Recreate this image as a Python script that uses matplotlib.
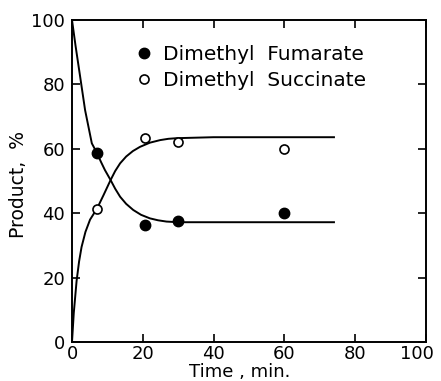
import matplotlib.pyplot as plt
from matplotlib.transforms import ScaledTranslation

# measured points
time_pts = [7, 20.5, 30, 60]
fumarate = [58.8, 36.4, 37.7, 40]
succinate = [41.4, 63.4, 62.2, 60]

# hand drawn curves
fum_t = [0, 1, 2.3, 3.7, 5.6, 7, 8.2, 9.3, 10.9, 12.2, 13.6, 15.3, 17.3, 19.5, 22, 24.3, 26.7, 30, 40, 74]
fum_y = [100, 92, 82.4, 72, 61.7, 58.8, 55.9, 53.4, 50.3, 47.6, 45.1, 42.9, 41, 39.5, 38.4, 37.8, 37.4, 37.2, 37.2, 37.2]
suc_t = [0, 0.5, 1.3, 2, 2.7, 3.8, 5.1, 7.1, 8.9, 10.9, 12.2, 13.6, 15.3, 17.2, 19.2, 22, 24.9, 27.2, 29.6, 40, 74]
suc_y = [0, 9, 19, 25, 29.5, 34.2, 38, 41.5, 45.6, 50.3, 53.1, 55.5, 57.6, 59.3, 60.6, 61.9, 62.7, 63.1, 63.3, 63.6, 63.6]

xticks = [0, 20, 40, 60, 80, 100]
yticks = [0, 20, 40, 60, 80, 100]

fig = plt.figure(figsize=(4.41, 3.81), dpi=100)
ax = fig.add_axes([72/441, 1 - 342/381, 354/441, 322/381])

ax.plot(fum_t, fum_y, color='black', lw=1.4)
ax.plot(suc_t, suc_y, color='black', lw=1.4)
ax.plot(time_pts, fumarate, 'o', color='black', ms=7.5, label='Dimethyl  Fumarate')
ax.plot(time_pts, succinate, 'o', mfc='white', mec='black', mew=1.2, ms=6.5, label='Dimethyl  Succinate')

ax.set_xlim(0, 100)
ax.set_ylim(0, 100)
ax.set_xticks(xticks)
ax.set_yticks(yticks)
ax.tick_params(direction='in', top=True, right=True, length=5.5, width=1.2, labelsize=13)
ax.tick_params(axis='x', pad=2)
ax.tick_params(axis='y', pad=5)
for s in ax.spines.values():
    s.set_linewidth(1.4)

# last x label sits a bit to the left so it stays on the page
lab = ax.get_xticklabels()[-1]
lab.set_transform(lab.get_transform() + ScaledTranslation(-9/100, 0, fig.dpi_scale_trans))

ax.set_xlabel('Time , min.', fontsize=13)
ax.xaxis.set_label_coords(0.475, -0.065)
ax.set_ylabel('Product,  %', fontsize=13.5)
ax.yaxis.set_label_coords(-0.125, 0.49)

ax.legend(loc='upper left', bbox_to_anchor=(0.125, 0.98), frameon=False, fontsize=14.5,
          handletextpad=0.4, handlelength=1.0, labelspacing=0.35, borderpad=0.4)

fig.savefig('out.png', dpi=100)
